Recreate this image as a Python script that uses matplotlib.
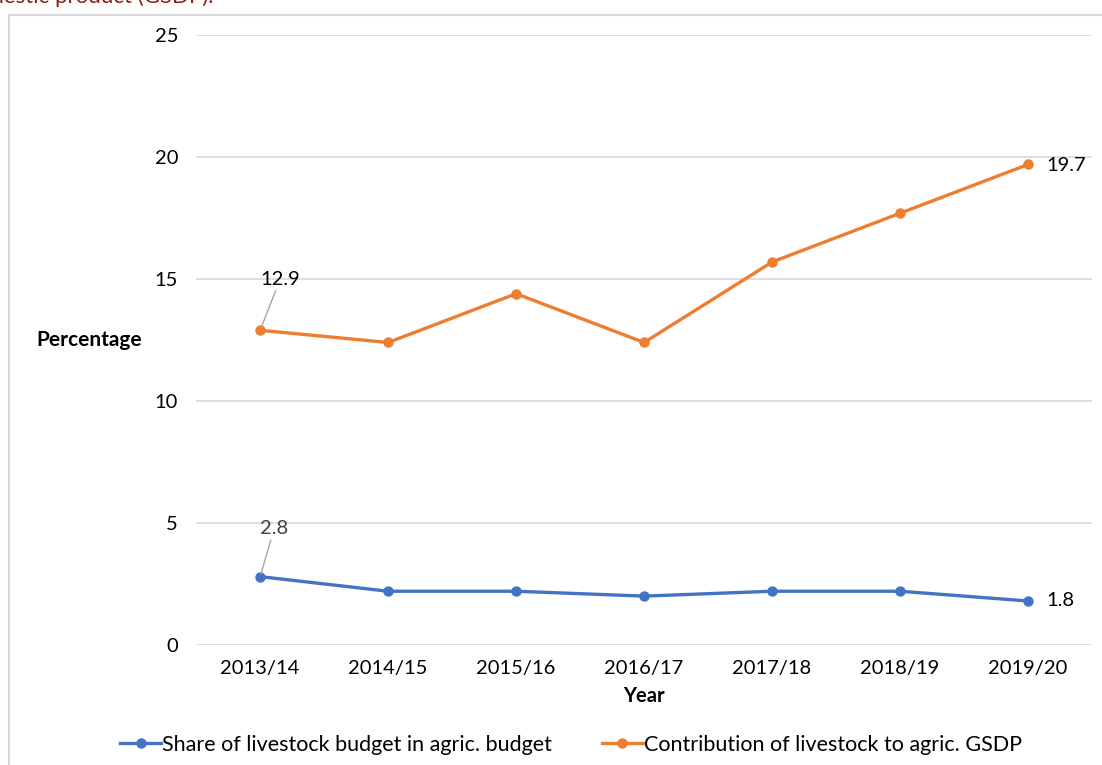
import matplotlib.pyplot as plt
from matplotlib.patches import Rectangle

plt.rcParams["font.family"] = ["Lato", "DejaVu Sans"]

years = ["2013/14", "2014/15", "2015/16", "2016/17", "2017/18", "2018/19", "2019/20"]
livestock_budget_share = [2.8, 2.2, 2.2, 2.0, 2.2, 2.2, 1.8]
livestock_gsdp_share = [12.9, 12.4, 14.4, 12.4, 15.7, 17.7, 19.7]

blue = "#4472C4"
orange = "#ED7D31"

fig = plt.figure(figsize=(11.02, 7.65), dpi=100)
ax = fig.add_axes([0.178, 0.157, 0.813, 0.797])

x = range(len(years))
ax.plot(x, livestock_budget_share, color=blue, lw=2.4, marker="o", ms=6.5,
        label="Share of livestock budget in agric. budget", zorder=3)
ax.plot(x, livestock_gsdp_share, color=orange, lw=2.4, marker="o", ms=6.5,
        label="Contribution of livestock to agric. GSDP", zorder=3)

ax.set_xlim(-0.5, len(years) - 0.5)
ax.set_ylim(0, 25)
ax.set_yticks([0, 5, 10, 15, 20, 25])
ax.set_xticks(list(x))
ax.set_xticklabels(years)
ax.tick_params(axis="both", length=0, labelsize=14.5, colors="#000000")
ax.tick_params(axis="y", pad=13)
ax.tick_params(axis="x", pad=11)
ax.grid(axis="y", color="#D9D9D9", lw=1.2)
ax.set_axisbelow(True)
for s in ax.spines.values():
    s.set_visible(False)

ax.set_xlabel("Year", fontsize=14.5, fontweight="bold", labelpad=6)
ax.set_ylabel("Percentage", fontsize=15, fontweight="bold", rotation=0,
              ha="center", va="center")
ax.yaxis.set_label_coords(-0.119, 0.5)

# data labels
lead = dict(arrowstyle="-", color="#A6A6A6", lw=1, shrinkA=0, shrinkB=2)
ax.annotate(f"{livestock_gsdp_share[0]}", (0, livestock_gsdp_share[0]),
            xytext=(20, 51), textcoords="offset pixels", ha="center", va="center",
            fontsize=14.5, arrowprops=lead)
ax.annotate(f"{livestock_budget_share[0]}", (0, livestock_budget_share[0]),
            xytext=(14, 48), textcoords="offset pixels", ha="center", va="center",
            fontsize=14.5, color="#404040", arrowprops=lead)
ax.annotate(f"{livestock_gsdp_share[-1]}", (6, livestock_gsdp_share[-1]),
            xytext=(18, -1), textcoords="offset pixels", ha="left", va="center",
            fontsize=14.5)
ax.annotate(f"{livestock_budget_share[-1]}", (6, livestock_budget_share[-1]),
            xytext=(18, 0), textcoords="offset pixels", ha="left", va="center",
            fontsize=14.5)

fig.legend(loc="center", bbox_to_anchor=(571 / 1102, 1 - 745 / 765), ncol=2,
           frameon=False, fontsize=15.5, handlelength=1.9, handletextpad=0.05,
           columnspacing=2.3)

# chart border and clipped caption from the page
fig.patches.append(Rectangle((9 / 1102, -0.1), 1.2, 1 - 15 / 765 + 0.1,
                             transform=fig.transFigure, fill=False,
                             edgecolor="#D9D9D9", lw=1.5))
fig.text(214 / 1102, 1 - 3 / 765, "gross domestic product (GSDP).",
         ha="right", va="baseline", fontsize=16, color="#8B1E1E")

fig.savefig("out.png", dpi=100)
